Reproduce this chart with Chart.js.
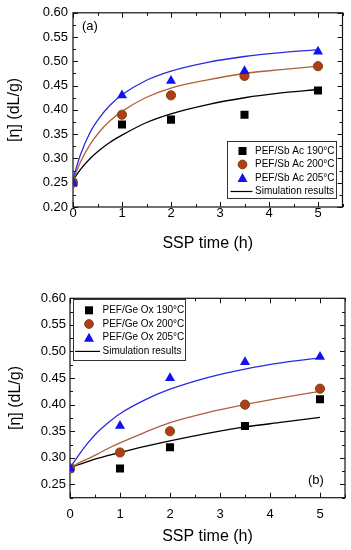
<!DOCTYPE html>
<html>
<head>
<meta charset="utf-8">
<script src="https://cdn.jsdelivr.net/npm/chart.js@4.4.0/dist/chart.umd.min.js"></script>
<style>
  html, body { margin: 0; padding: 0; background: #fff; }
  canvas { display: block; }
</style>
</head>
<body>
<canvas id="chartA" width="351" height="275"></canvas>
<canvas id="chartB" width="351" height="275"></canvas>
<script>
// Measured points
const sspTime = [0, 1, 2, 3.5, 5];
const sbAc190 = [0.25, 0.37, 0.38, 0.39, 0.44];
const sbAc200 = [0.25, 0.39, 0.43, 0.47, 0.49];
const sbAc205 = [0.25, 0.43, 0.46, 0.48, 0.52];
const geOx190 = [0.28, 0.28, 0.32, 0.36, 0.41];
const geOx200 = [0.28, 0.31, 0.35, 0.40, 0.43];
const geOx205 = [0.28, 0.36, 0.45, 0.48, 0.49];

// Simulation curves
const simTime = [0, 0.15, 0.35, 0.55, 0.75, 1, 1.5, 2, 2.75, 3.5, 4.25, 5];
const simSb190 = [0.255, 0.277, 0.300, 0.318, 0.333, 0.348, 0.374, 0.392, 0.411, 0.425, 0.435, 0.442];
const simSb200 = [0.255, 0.292, 0.329, 0.356, 0.377, 0.397, 0.426, 0.445, 0.462, 0.475, 0.483, 0.490];
const simSb205 = [0.258, 0.307, 0.354, 0.385, 0.409, 0.431, 0.461, 0.480, 0.498, 0.510, 0.518, 0.524];
const simGe190 = [0.281, 0.2865, 0.293, 0.299, 0.304, 0.310, 0.3215, 0.332, 0.346, 0.358, 0.367, 0.376];
const simGe200 = [0.281, 0.289, 0.298, 0.307, 0.317, 0.328, 0.348, 0.366, 0.385, 0.400, 0.413, 0.425];
const simGe205 = [0.281, 0.302, 0.327, 0.348, 0.365, 0.383, 0.409, 0.429, 0.451, 0.467, 0.479, 0.488];

// Axes
const xTicks = [0, 1, 2, 3, 4, 5];
const yTicksA = [0.20, 0.25, 0.30, 0.35, 0.40, 0.45, 0.50, 0.55, 0.60];
const yTicksB = [0.25, 0.30, 0.35, 0.40, 0.45, 0.50, 0.55, 0.60];

const legendA = ["PEF/Sb Ac 190°C", "PEF/Sb Ac 200°C", "PEF/Sb Ac 205°C", "Simulation results"];
const legendB = ["PEF/Ge Ox 190°C", "PEF/Ge Ox 200°C", "PEF/Ge Ox 205°C", "Simulation results"];

const FONT = "'Liberation Sans', Arial, sans-serif";
const BLACK = "#000000";
const BROWN = "#b03c1a";
const BROWN_EDGE = "#7a4a12";
const BROWN_LINE = "#b0603a";
const BLUE = "#1212f0";
const BLUE_LINE = "#2a2ae0";

const xy = (xs, ys) => xs.map((x, i) => ({ x: x, y: ys[i] }));

function markerSet(ys, style) {
  return {
    data: xy(sspTime, ys),
    showLine: false,
    pointStyle: style.shape,
    pointRadius: style.r,
    pointBackgroundColor: style.fill,
    pointBorderColor: style.edge,
    pointBorderWidth: style.bw,
    order: 0,
  };
}

function lineSet(ys, color) {
  return {
    data: xy(simTime, ys),
    showLine: true,
    pointRadius: 0,
    borderColor: color,
    borderWidth: 1.3,
    cubicInterpolationMode: "monotone",
    fill: false,
    order: 1,
  };
}

const SQUARE = { shape: "rect", r: 5.7, fill: BLACK, edge: BLACK, bw: 0 };
const CIRCLE = { shape: "circle", r: 4.6, fill: BROWN, edge: BROWN_EDGE, bw: 1 };
const TRIANGLE = { shape: "triangle", r: 5.8, fill: BLUE, edge: BLUE, bw: 0 };

// frame with inward ticks on all four sides
const framePlugin = {
  id: "frame",
  beforeDatasetsDraw(chart) {
    const ctx = chart.ctx;
    const { left, right, top, bottom } = chart.chartArea;
    const xs = chart.scales.x, ys = chart.scales.y;
    ctx.save();
    ctx.strokeStyle = "#111";
    ctx.lineWidth = 1.2;
    ctx.strokeRect(left, top, right - left, bottom - top);
    ctx.lineWidth = 1;
    const xStep = xTicks[1] - xTicks[0];
    for (let v = xs.min; v <= xs.max + 1e-9; v += xStep / 2) {
      const major = Math.abs(v / xStep - Math.round(v / xStep)) < 1e-6;
      const len = major ? 5 : 3;
      const px = Math.round(xs.getPixelForValue(v)) + 0.5;
      ctx.beginPath();
      ctx.moveTo(px, bottom); ctx.lineTo(px, bottom - len);
      ctx.moveTo(px, top); ctx.lineTo(px, top + len);
      ctx.stroke();
    }
    const yT = chart.options.plugins.frame.yTicks;
    const yStep = yT[1] - yT[0];
    for (let v = yT[yT.length - 1]; v >= ys.min - 1e-9; v -= yStep / 2) {
      const k = (v - yT[0]) / yStep;
      const major = Math.abs(k - Math.round(k)) < 1e-6;
      const len = major ? 5 : 3;
      const py = Math.round(ys.getPixelForValue(v)) + 0.5;
      ctx.beginPath();
      ctx.moveTo(left, py); ctx.lineTo(left + len, py);
      ctx.moveTo(right, py); ctx.lineTo(right - len, py);
      ctx.stroke();
    }
    ctx.restore();
  },
};

function drawMark(ctx, shape, x, y) {
  ctx.beginPath();
  if (shape === "rect") {
    ctx.fillStyle = BLACK;
    ctx.fillRect(x - 4, y - 4, 8, 8);
  } else if (shape === "circle") {
    ctx.fillStyle = BROWN;
    ctx.strokeStyle = BROWN_EDGE;
    ctx.arc(x, y, 4.4, 0, Math.PI * 2);
    ctx.fill();
    ctx.stroke();
  } else {
    ctx.fillStyle = BLUE;
    ctx.moveTo(x, y - 5);
    ctx.lineTo(x + 5, y + 4);
    ctx.lineTo(x - 5, y + 4);
    ctx.closePath();
    ctx.fill();
  }
}

// boxed legend + panel letter inside the plot area
const boxLegendPlugin = {
  id: "boxLegend",
  afterDraw(chart, args, o) {
    const ctx = chart.ctx;
    const ca = chart.chartArea;
    const bx = o.corner === "br" ? ca.right - o.inset[0] - o.w : ca.left + o.inset[0];
    const by = o.corner === "br" ? ca.bottom - o.inset[1] - o.h : ca.top + o.inset[1];
    ctx.save();
    ctx.fillStyle = "#fff";
    ctx.fillRect(bx, by, o.w, o.h);
    ctx.strokeStyle = "#333";
    ctx.lineWidth = 1;
    ctx.strokeRect(Math.round(bx) + 0.5, Math.round(by) + 0.5, o.w, o.h);
    const shapes = ["rect", "circle", "triangle"];
    ctx.font = "10px " + FONT;
    ctx.textBaseline = "middle";
    ctx.textAlign = "left";
    o.labels.forEach((label, i) => {
      const ry = by + o.row0 + i * o.gap;
      if (i < 3) {
        drawMark(ctx, shapes[i], bx + o.markX, ry);
      } else {
        ctx.strokeStyle = BLACK;
        ctx.lineWidth = 1.2;
        ctx.beginPath();
        ctx.moveTo(bx + o.lineX[0], ry);
        ctx.lineTo(bx + o.lineX[1], ry);
        ctx.stroke();
      }
      ctx.fillStyle = BLACK;
      ctx.fillText(label, bx + o.textX, ry);
    });
    ctx.font = "13px " + FONT;
    ctx.fillStyle = BLACK;
    ctx.textBaseline = "middle";
    ctx.fillText(o.panel, o.panelPos[0], o.panelPos[1]);
    ctx.restore();
  },
};

function makeChart(id, p) {
  return new Chart(document.getElementById(id), {
    type: "scatter",
    data: { datasets: p.datasets },
    options: {
      responsive: false,
      animation: false,
      devicePixelRatio: 1,
      layout: { padding: { left: 0, top: p.area.top, right: 351 - p.area.right, bottom: 0 } },
      scales: {
        x: {
          type: "linear",
          min: 0,
          max: 5.5,
          grid: { display: false, drawTicks: false },
          border: { display: false },
          afterBuildTicks: (s) => { s.ticks = xTicks.map((v) => ({ value: v })); },
          afterFit: (s) => { s.height = 275 - p.area.bottom; },
          ticks: { color: BLACK, font: { family: FONT, size: 13 }, padding: p.xPad, maxRotation: 0 },
          title: {
            display: true, text: "SSP time (h)", color: BLACK,
            font: { family: FONT, size: 16 }, padding: { top: 0, bottom: p.xTitlePad },
          },
        },
        y: {
          type: "linear",
          min: p.yMin,
          max: 0.60,
          grid: { display: false, drawTicks: false },
          border: { display: false },
          afterBuildTicks: (s) => { s.ticks = p.yTicks.map((v) => ({ value: v })); },
          afterFit: (s) => { s.width = p.area.left; },
          ticks: {
            color: BLACK, font: { family: FONT, size: 13 }, padding: p.yPad,
            callback: (v) => Number(v).toFixed(2),
          },
          title: {
            display: true, text: "[η] (dL/g)", color: BLACK,
            font: { family: FONT, size: 16 }, padding: { top: p.yTitlePad, bottom: 0 },
          },
        },
      },
      plugins: {
        legend: { display: false },
        tooltip: { enabled: false },
        frame: { yTicks: p.yTicks },
        boxLegend: p.legend,
      },
    },
    plugins: [framePlugin, boxLegendPlugin],
  });
}

makeChart("chartA", {
  area: { left: 73, right: 342.5, top: 10, bottom: 207 },
  yMin: 0.20,
  yTicks: yTicksA,
  xPad: -1,
  yPad: 5,
  xTitlePad: 22,
  yTitlePad: 5.4,
  datasets: [
    markerSet(sbAc205, TRIANGLE),
    markerSet(sbAc200, CIRCLE),
    markerSet(sbAc190, SQUARE),
    lineSet(simSb205, BLUE_LINE),
    lineSet(simSb200, BROWN_LINE),
    lineSet(simSb190, BLACK),
  ],
  legend: {
    labels: legendA, corner: "br", inset: [7, 9], w: 109, h: 57,
    row0: 10, gap: 13.5, markX: 16, lineX: [4, 26], textX: 28.5,
    panel: "(a)", panelPos: [82, 26],
  },
});

makeChart("chartB", {
  area: { left: 70, right: 345, top: 23.3, bottom: 222.7 },
  yMin: 0.225,
  yTicks: yTicksB,
  xPad: 8.8,
  yPad: 4,
  xTitlePad: 3.7,
  yTitlePad: 6,
  datasets: [
    markerSet(geOx205, TRIANGLE),
    markerSet(geOx200, CIRCLE),
    markerSet(geOx190, SQUARE),
    lineSet(simGe205, BLUE_LINE),
    lineSet(simGe200, BROWN_LINE),
    lineSet(simGe190, BLACK),
  ],
  legend: {
    labels: legendB, corner: "tl", inset: [3, 1], w: 112, h: 61,
    row0: 11, gap: 13.7, markX: 16, lineX: [2, 27], textX: 29.5,
    panel: "(b)", panelPos: [308, 205],
  },
});
</script>
</body>
</html>
